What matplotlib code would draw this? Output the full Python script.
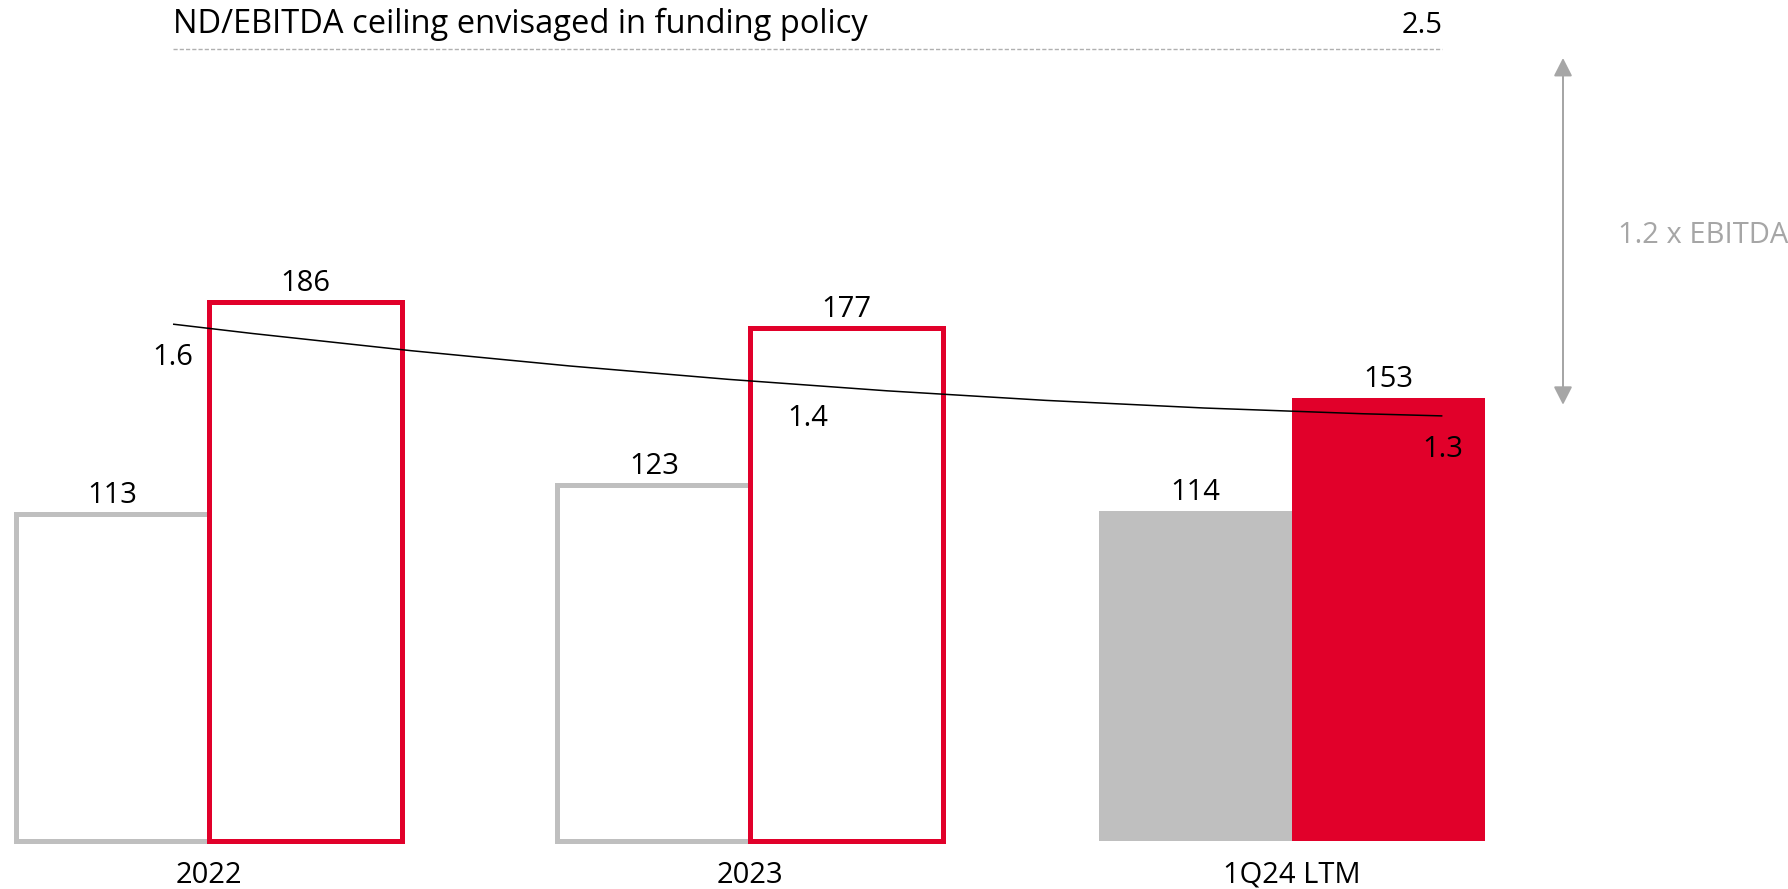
import matplotlib
matplotlib.use("Agg")
from matplotlib import pyplot as plt
from matplotlib.path import Path
from matplotlib.patches import PathPatch

plt.rcParams['font.family'] = ['Open Sans', 'DejaVu Sans']

# data
categories = ["2022", "2023", "1Q24 LTM"]
grey_values = [113, 123, 114]
red_values = [186, 177, 153]
filled = [False, False, True]
ratio_values = [1.6, 1.4, 1.3]
ceiling = 2.5
ceiling_label = "ND/EBITDA ceiling envisaged in funding policy"
arrow_label = "1.2 x EBITDA"

red = "#e1002a"
grey = "#bfbfbf"
arrow_grey = "#a6a6a6"
fs = 21

fig = plt.figure(figsize=(17.88, 8.89), dpi=100)

# bars
ax = fig.add_axes([0, 0, 1, 1])
ax.axis("off")
ax.set_xlim(-0.3853, 2.916)
ax.set_ylim(-16.6, 290.4)
w = 0.3564
for i, cat in enumerate(categories):
    for dx, v, c in ((-w / 2, grey_values[i], grey), (w / 2, red_values[i], red)):
        if filled[i]:
            ax.bar(i + dx, v, width=w, color=c, linewidth=0, zorder=2)
        else:
            ax.bar(i + dx, v, width=w, facecolor="white", edgecolor=c,
                   linewidth=3.6, joinstyle="miter", zorder=2)
        ax.annotate(f"{v}", xy=(i + dx, v), xytext=(0, 8), textcoords="offset points",
                    ha="center", va="baseline", fontsize=fs, color="black")
    ax.annotate(cat, xy=(i, 0), xytext=(0, -30), textcoords="offset points",
                ha="center", va="baseline", fontsize=fs, color="black")

# ratio line on its own scale
ax2 = fig.add_axes([0, 0, 1, 1])
ax2.axis("off")
ax2.patch.set_alpha(0)
ax2.set_xlim(-0.2726, 2.5445)
ax2.set_ylim(-0.247, 2.660)

xs = list(range(len(ratio_values)))
p0 = (xs[0], ratio_values[0])
p2 = (xs[-1], ratio_values[-1])
# quadratic bezier passing through the middle point
ctrl = (2 * xs[1] - (p0[0] + p2[0]) / 2, 2 * ratio_values[1] - (p0[1] + p2[1]) / 2)
curve = Path([p0, ctrl, p2], [Path.MOVETO, Path.CURVE3, Path.CURVE3])
ax2.add_patch(PathPatch(curve, facecolor="none", edgecolor="black", linewidth=1.1, zorder=5))
for x, v in zip(xs, ratio_values):
    ax2.annotate(f"{v:.1f}", xy=(x, v), xytext=(0, -29.5), textcoords="offset points",
                 ha="center", va="baseline", fontsize=fs, color="black", zorder=6)

# ceiling
ax2.plot([xs[0], xs[-1]], [ceiling, ceiling], color="#b0b0b0", linewidth=1,
         linestyle=(0, (3, 1.5)))
ax2.annotate(ceiling_label, xy=(xs[0], ceiling), xytext=(0, 11.5), textcoords="offset points",
             ha="left", va="baseline", fontsize=23.5, color="black")
ax2.annotate(f"{ceiling}", xy=(xs[-1], ceiling), xytext=(0, 11.5), textcoords="offset points",
             ha="right", va="baseline", fontsize=fs, color="black")

# headroom arrow
arrow_x = 2.19
ax2.annotate("", xy=(arrow_x, ratio_values[-1]), xytext=(arrow_x, ceiling),
             arrowprops=dict(arrowstyle="<|-|>,head_length=0.55,head_width=0.28",
                             mutation_scale=20, color=arrow_grey, linewidth=1.44,
                             shrinkA=6.5, shrinkB=8))
ax2.annotate(arrow_label, xy=(arrow_x, (ceiling + ratio_values[-1]) / 2), xytext=(39.5, -7.5),
             textcoords="offset points", ha="left", va="baseline", fontsize=fs, color=arrow_grey)

plt.savefig("out.png", dpi=100)
